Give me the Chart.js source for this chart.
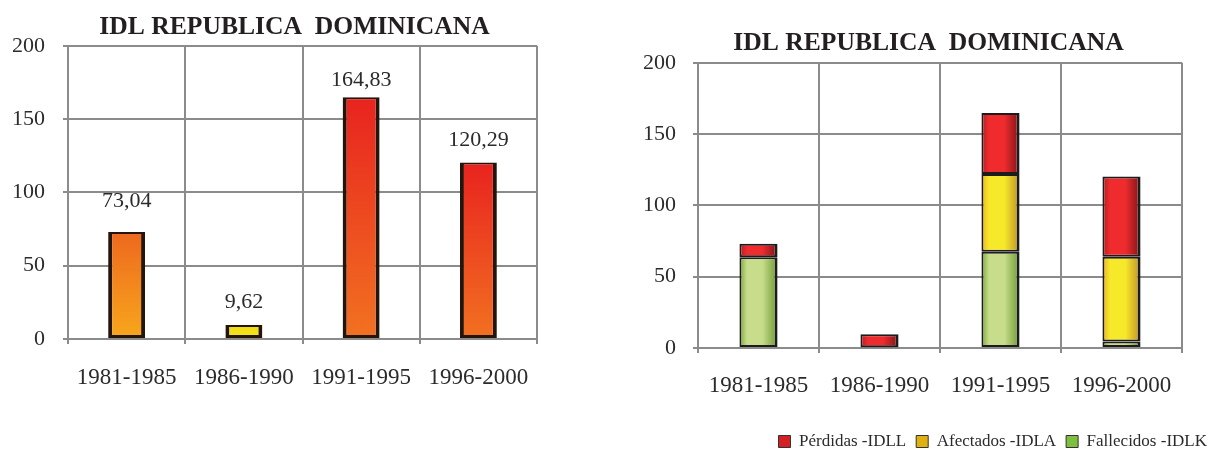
<!DOCTYPE html>
<html>
<head>
<meta charset="utf-8">
<title>IDL Republica Dominicana</title>
<script src="https://cdn.jsdelivr.net/npm/chart.js@4.4.1/dist/chart.umd.min.js"></script>
<style>
  html, body { margin: 0; padding: 0; background: #fff; overflow: hidden; }
  .box { position: absolute; top: 0; }
  #leftBox { left: 0; width: 589px; height: 454px; }
  #rightBox { left: 620px; width: 597px; height: 460px; }
</style>
</head>
<body>
<div id="leftBox" class="box"><canvas id="idlTotal"></canvas></div>
<div id="rightBox" class="box"><canvas id="idlStack"></canvas></div>
<script>
// ============================================
// DATA
// ============================================

const periods = ['1981-1985', '1986-1990', '1991-1995', '1996-2000'];
const idlTotal = [73.04, 9.62, 164.83, 120.29];

// stacked components (bottom to top)
const fallecidos = [63.6, 0.6, 67.5, 4.5];
const afectados = [0, 0, 54.5, 59.5];
const perdidas = [9.44, 9.02, 42.83, 56.29];

const seriesNames = ['Pérdidas -IDLL', 'Afectados -IDLA', 'Fallecidos -IDLK'];
const yTicks = [0, 50, 100, 150, 200];
const chartTitle = 'IDL REPUBLICA  DOMINICANA';

// ============================================
// STYLE
// ============================================

const SERIF = '"Liberation Serif", "Times New Roman", serif';
const GRID = '#8b8b8d';
const TEXT = '#2b2b2b';
const BAR_PCT = 0.315;

// left chart: top/bottom fill per bar, dark rim
const totalTop = ['#ee681e', '#efd90f', '#e8231f', '#e8231f'];
const totalBottom = ['#f7a71c', '#f6e823', '#f27221', '#f27121'];
const labelLift = [31, 23, 17, 22];

// right chart: left edge / middle / right edge
const shadeRed = ['#b51d1f', '#ef2b2e', '#7e1414'];
const shadeYellow = ['#f0b01c', '#f6e92a', '#c08f28'];
const shadeGreen = ['#7aa83a', '#c7dd8b', '#6f9a33'];
const legendFill = ['#d42024', '#e0b010', '#7fbf3f'];

Chart.defaults.font.family = SERIF;
Chart.defaults.color = TEXT;
Chart.defaults.animation = false;

function verticalFill(c) {
    const i = c.dataIndex || 0;
    if (c.type !== 'data' || !c.chart.chartArea) return totalBottom[i];
    const y = c.chart.scales.y;
    const top = y.getPixelForValue(c.raw);
    const bottom = y.getPixelForValue(0);
    if (!Number.isFinite(top) || !Number.isFinite(bottom)) return totalBottom[i];
    const g = c.chart.ctx.createLinearGradient(0, top, 0, bottom);
    g.addColorStop(0, totalTop[i]);
    g.addColorStop(1, totalBottom[i]);
    return g;
}

function sideShade(colors) {
    return (c) => {
        if (c.type !== 'data' || !c.chart.chartArea) return colors[1];
        const x = c.chart.scales.x;
        const cx = x.getPixelForValue(c.dataIndex);
        const half = (x.width / periods.length) * BAR_PCT / 2;
        if (!Number.isFinite(cx) || !Number.isFinite(half) || half <= 0) return colors[1];
        const g = c.chart.ctx.createLinearGradient(cx - half, 0, cx + half, 0);
        g.addColorStop(0, colors[0]);
        g.addColorStop(0.2, colors[1]);
        g.addColorStop(0.6, colors[1]);
        g.addColorStop(1, colors[2]);
        return g;
    };
}

function titleBlock(top, bottom) {
    return {
        display: true,
        text: chartTitle,
        color: '#231f20',
        font: { family: SERIF, size: 25.6, weight: 'bold' },
        padding: { top: top, bottom: bottom }
    };
}

function yScale(width, pad) {
    return {
        min: 0,
        max: 200,
        afterBuildTicks: (s) => { s.ticks = yTicks.map(v => ({ value: v })); },
        afterFit: (s) => { s.width = width; },
        grid: { color: GRID, lineWidth: 2, tickLength: 5 },
        border: { color: GRID, width: 2 },
        ticks: { font: { size: 22 }, color: TEXT, padding: pad }
    };
}

function xScale(height, pad, stacked) {
    return {
        stacked: stacked,
        afterFit: (s) => { s.height = height; },
        grid: { offset: true, color: GRID, lineWidth: 2, tickLength: 5 },
        border: { color: GRID, width: 2 },
        ticks: { font: { size: 23 }, color: TEXT, padding: pad, maxRotation: 0 }
    };
}

// empty right-hand spacer so the plot ends where the original's does
function spacer(width) {
    return {
        type: 'linear',
        position: 'right',
        display: true,
        grid: { display: false },
        border: { display: false },
        ticks: { display: false },
        afterFit: (s) => { s.width = width; }
    };
}

// value labels over the single bars, decimal comma
const valueLabels = {
    id: 'valueLabels',
    afterDatasetsDraw(chart) {
        const ctx = chart.ctx;
        const meta = chart.getDatasetMeta(0);
        ctx.save();
        ctx.font = '22px ' + SERIF;
        ctx.fillStyle = TEXT;
        ctx.textAlign = 'center';
        ctx.textBaseline = 'middle';
        meta.data.forEach((bar, i) => {
            const txt = idlTotal[i].toFixed(2).replace('.', ',');
            ctx.fillText(txt, bar.x, bar.y - labelLift[i]);
        });
        ctx.restore();
    }
};

// ============================================
// LEFT: total IDL
// ============================================

new Chart(document.getElementById('idlTotal'), {
    type: 'bar',
    data: {
        labels: periods,
        datasets: [{
            label: 'IDL',
            data: idlTotal,
            backgroundColor: verticalFill,
            borderColor: '#24140a',
            borderWidth: { left: 4, right: 4, top: 2, bottom: 3 },
            borderSkipped: false,
            barPercentage: BAR_PCT,
            categoryPercentage: 1
        }]
    },
    options: {
        responsive: true,
        maintainAspectRatio: false,
        layout: { padding: 0 },
        plugins: {
            legend: { display: false },
            tooltip: { enabled: false },
            title: titleBlock(12, 3)
        },
        scales: {
            x: xScale(115, 20, false),
            y: yScale(68, 18),
            pad: spacer(52)
        }
    },
    plugins: [valueLabels]
});

// ============================================
// RIGHT: IDL by component (stacked)
// ============================================

function stackSet(label, values, shade) {
    return {
        label: label,
        data: values,
        backgroundColor: sideShade(shade),
        borderColor: '#1c1c1c',
        borderWidth: { left: 2, right: 3, top: 2, bottom: 2 },
        borderSkipped: false,
        barPercentage: BAR_PCT,
        categoryPercentage: 1
    };
}

new Chart(document.getElementById('idlStack'), {
    type: 'bar',
    data: {
        labels: periods,
        datasets: [
            stackSet(seriesNames[2], fallecidos, shadeGreen),
            stackSet(seriesNames[1], afectados, shadeYellow),
            stackSet(seriesNames[0], perdidas, shadeRed)
        ]
    },
    options: {
        responsive: true,
        maintainAspectRatio: false,
        layout: { padding: { left: 20, right: 0, top: 0, bottom: 0 } },
        plugins: {
            tooltip: { enabled: false },
            title: titleBlock(28, 4),
            legend: {
                position: 'bottom',
                align: 'end',
                reverse: true,
                labels: {
                    font: { family: SERIF, size: 17 },
                    color: TEXT,
                    boxWidth: 12,
                    boxHeight: 12,
                    padding: 10,
                    generateLabels: (chart) => chart.data.datasets.map((ds, i) => ({
                        text: ds.label,
                        fillStyle: legendFill[2 - i],
                        strokeStyle: '#333',
                        lineWidth: 1,
                        fontColor: TEXT,
                        datasetIndex: i
                    }))
                }
            }
        },
        scales: {
            x: xScale(75, 19, true),
            y: Object.assign(yScale(58, 17), { stacked: true }),
            pad: spacer(35)
        }
    }
});
</script>
</body>
</html>
